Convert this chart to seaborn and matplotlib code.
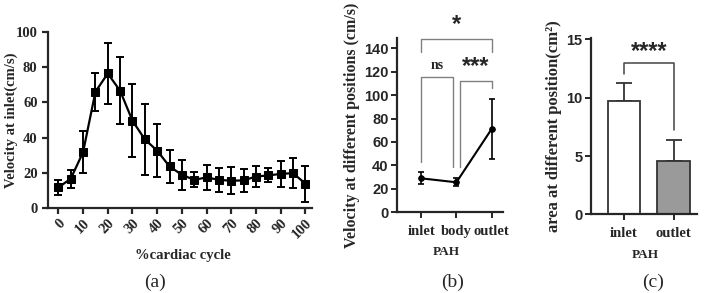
import numpy as np
import pandas as pd
import matplotlib
matplotlib.use("Agg")
import matplotlib.pyplot as plt
import seaborn as sns

# ==========================================
# Data
# ==========================================

cycle = [0, 5, 10, 15, 20, 25, 30, 35, 40, 45, 50,
         55, 60, 65, 70, 75, 80, 85, 90, 95, 100]
inlet_vel = [11.7, 16.6, 31.7, 66.0, 76.4, 66.6, 49.6, 39.0, 32.6, 23.6, 18.9,
             16.0, 17.4, 16.0, 15.5, 15.7, 17.9, 18.5, 19.4, 19.8, 13.9]
inlet_err = [4.5, 5.0, 12.0, 10.7, 17.5, 19.0, 20.8, 20.0, 15.0, 9.6, 8.5,
             4.3, 7.0, 6.9, 7.7, 6.5, 6.2, 4.0, 7.3, 8.7, 10.2]

positions = ["inlet", "body", "outlet"]
pos_vel = [29.0, 25.6, 71.2]
pos_err = [5.0, 3.5, 25.5]

area_groups = ["inlet", "outlet"]
area_mean = [9.74, 4.57]
area_err = [1.5, 1.8]

SERIF = "Liberation Serif"
SANS = "Liberation Sans"

sns.set_style("ticks")
plt.rcParams["font.family"] = [SERIF, "DejaVu Sans"]
plt.rcParams["font.weight"] = "bold"
plt.rcParams["axes.labelweight"] = "bold"
plt.rcParams["axes.linewidth"] = 1.6

fig = plt.figure(figsize=(7.09, 2.93), dpi=100)

# ==========================================
# (a) velocity over cardiac cycle
# ==========================================

ax1 = fig.add_axes([0.0677, 0.290, 0.372, 0.601])
df_a = pd.DataFrame({"cycle": cycle, "vel": inlet_vel})
ax1.errorbar(cycle, inlet_vel, yerr=inlet_err, fmt="none", ecolor="black",
             elinewidth=1.4, capsize=3, capthick=1.4, zorder=2)
sns.lineplot(data=df_a, x="cycle", y="vel", ax=ax1, color="black",
             linewidth=1.6, marker="s", markersize=6, markeredgecolor="black",
             zorder=3)
ax1.set_xlim(-4.2, 102.6)
ax1.set_ylim(0, 100)
ax1.set_xticks(range(0, 101, 10))
ax1.set_yticks(range(0, 101, 20))
ax1.tick_params(axis="both", labelsize=10.5, width=1.6, length=4,
                labelfontfamily=SERIF)
ax1.tick_params(axis="x", labelrotation=45, pad=2)
for lab in ax1.get_xticklabels():
    lab.set_ha("right")
    lab.set_rotation_mode("anchor")
ax1.set_xlabel("")
ax1.set_ylabel("Velocity at inlet(cm/s)", fontsize=10.5)
ax1.yaxis.set_label_coords(-0.112, 0.5)
sns.despine(ax=ax1)

# ==========================================
# (b) velocity at positions
# ==========================================

ax2 = fig.add_axes([0.560, 0.2754, 0.1495, 0.594])
xb = np.arange(len(positions))
ax2.errorbar(xb, pos_vel, yerr=pos_err, fmt="none", ecolor="black",
             elinewidth=1.2, capsize=2.3, capthick=1.2, zorder=2)
sns.lineplot(x=xb, y=pos_vel, ax=ax2, color="black", linewidth=1.5,
             marker="o", markersize=4, markeredgecolor="black", zorder=3)
ax2.set_xlim(-0.68, 2.32)
ax2.set_ylim(0, 148.5)
ax2.set_xticks(xb)
ax2.set_xticklabels(positions)
ax2.set_yticks(range(0, 141, 20))
ax2.tick_params(axis="both", width=1.4, length=4)
ax2.tick_params(axis="x", labelsize=10.5, pad=5, labelfontfamily=SERIF)
ax2.tick_params(axis="y", labelsize=10.5, pad=2, labelfontfamily=SANS)
ax2.set_ylabel("Velocity at different positions (cm/s)", fontsize=11.5,
               labelpad=3)
sns.despine(ax=ax2)

gcol = "#808080"
d = 0.094
ax2.plot([0, 0, 2, 2], [136.8, 147.9, 147.9, 136.8], color=gcol, lw=1.0,
         clip_on=False)
ax2.plot([0, 0, 1 - d, 1 - d], [43.3, 115.4, 115.4, 39.0], color=gcol, lw=1.0)
ax2.plot([1 + d, 1 + d, 2, 2], [39.0, 112.3, 112.3, 106.0], color=gcol, lw=1.0)
ax2.text(1, 150, "*", ha="center", va="bottom", fontsize=17,
         family=SANS, clip_on=False)
ax2.text(0.45, 125.5, "ns", ha="center", va="center", fontsize=10,
         family=SERIF)
ax2.text(1.55, 115, "***", ha="center", va="bottom", fontsize=17,
         family=SANS)

# ==========================================
# (c) area bars
# ==========================================

ax3 = fig.add_axes([0.8336, 0.2686, 0.1495, 0.6007])
df_c = pd.DataFrame({"group": area_groups, "area": area_mean})
sns.barplot(data=df_c, x="group", y="area", ax=ax3, hue="group",
            palette=["white", "#9a9a9a"], edgecolor="#333333", linewidth=1.3,
            width=0.65, legend=False, zorder=2)
ax3.errorbar(range(len(area_groups)), area_mean,
             yerr=[[0] * len(area_err), area_err], fmt="none",
             ecolor="#333333", elinewidth=1.3, capsize=5.5, capthick=1.3,
             zorder=1)
ax3.set_xlim(-0.66, 1.47)
ax3.set_ylim(0, 15.1)
ax3.set_yticks([0, 5, 10, 15])
ax3.tick_params(axis="both", width=1.4, length=4)
ax3.tick_params(axis="x", labelsize=10.5, pad=5, labelfontfamily=SERIF)
ax3.tick_params(axis="y", labelsize=10.5, pad=2, labelfontfamily=SANS)
ax3.set_xlabel("")
ax3.set_ylabel("area at different position(cm²)", fontsize=12, labelpad=3)
sns.despine(ax=ax3)
ax3.plot([0, 0, 1, 1], [12.07, 12.96, 12.96, 7.25], color="#444444", lw=1.1)
ax3.text(0.5, 13.0, "****", ha="center", va="bottom", fontsize=17,
         family=SANS)

# ==========================================
# Figure labels
# ==========================================

W, H = 709.0, 293.0
fig.text(182.5 / W, 1 - 255 / H, "%cardiac cycle", ha="center", va="center",
         fontsize=10.5, family=SERIF)
fig.text(446 / W, 1 - 252 / H, "PAH", ha="center", va="center",
         fontsize=9.5, family=SERIF)
fig.text(645.7 / W, 1 - 255 / H, "PAH", ha="center", va="center",
         fontsize=9.5, family=SERIF)
for xc, lab in [(155, "(a)"), (453, "(b)"), (653, "(c)")]:
    fig.text(xc / W, 1 - 282 / H, lab, ha="center", va="center",
             fontsize=14, fontweight="normal", family=SERIF)

fig.savefig("out.png", dpi=100)
